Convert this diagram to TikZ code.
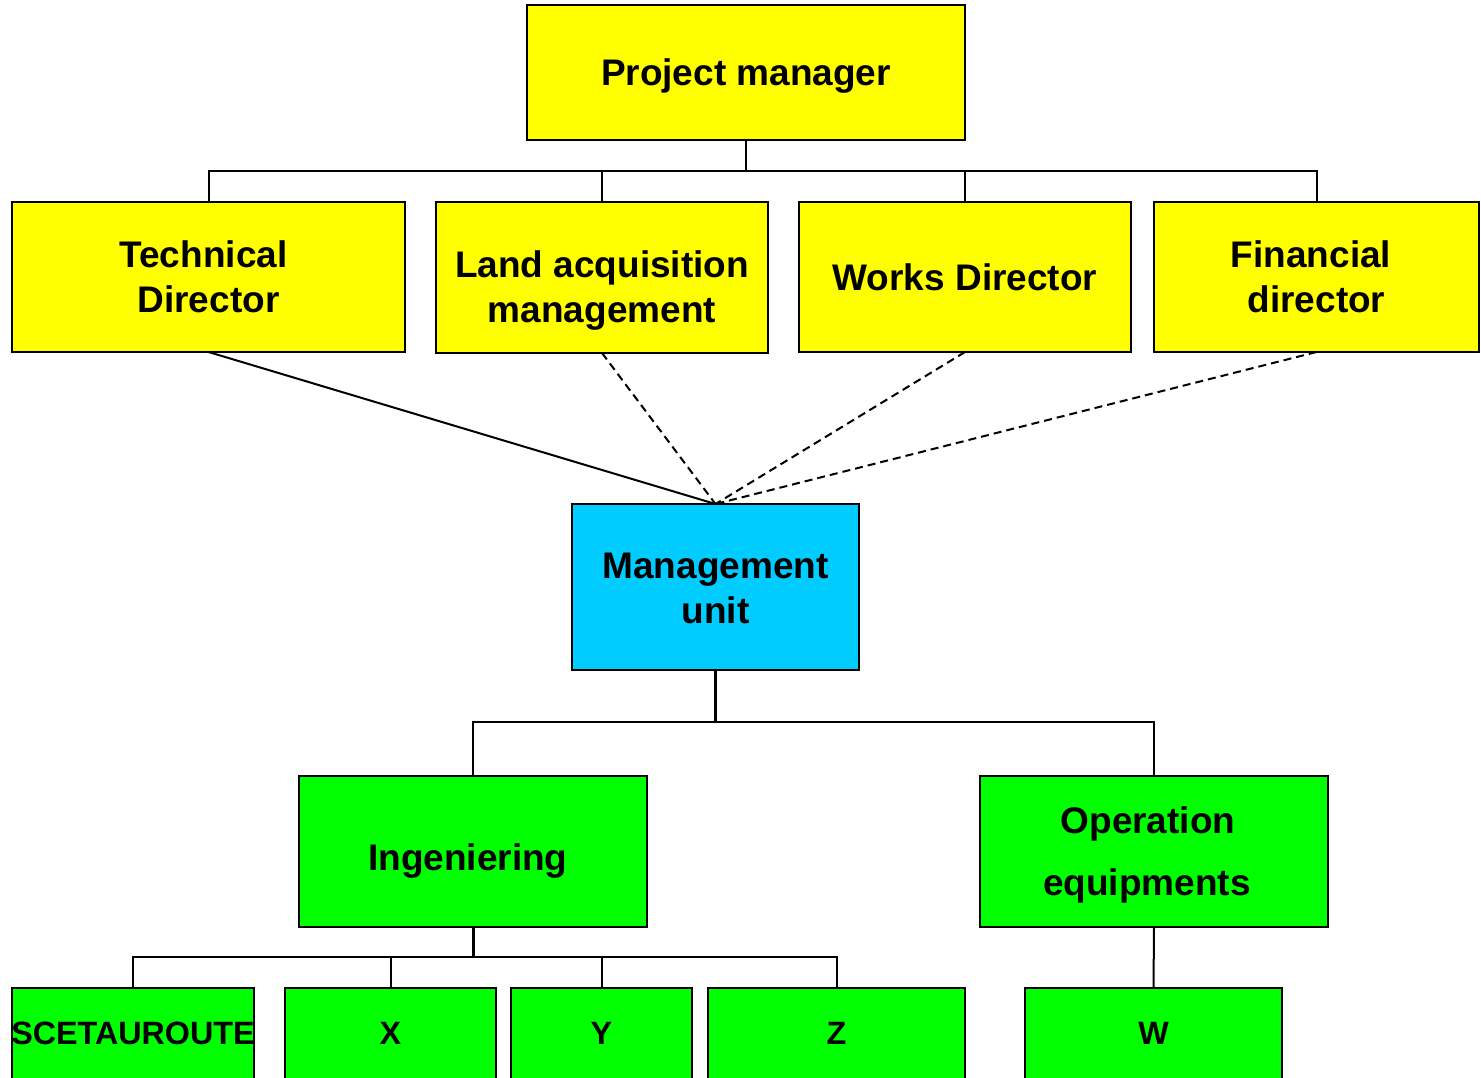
\documentclass[tikz,border=0pt]{standalone}
\usepackage{fontspec}
\setmainfont{Liberation Sans}
\definecolor{boxyellow}{HTML}{FFFF00}
\definecolor{boxcyan}{HTML}{00CCFF}
\definecolor{boxgreen}{HTML}{00FF00}
\tikzset{
  box/.style={draw=black, line width=2pt, inner sep=0pt, outer sep=0pt},
  ybox/.style={box, fill=boxyellow},
  cbox/.style={box, fill=boxcyan},
  gbox/.style={box, fill=boxgreen},
  lbl/.style={inner sep=0pt, align=center, font=\bfseries\fontsize{37}{45}\selectfont},
  slbl/.style={inner sep=0pt, align=center, font=\bfseries\fontsize{32.3}{38}\selectfont},
  conn/.style={line width=2pt},
  stem/.style={line width=3pt},
  dconn/.style={line width=2pt, dash pattern=on 8pt off 5pt},
}
\begin{document}
\begin{tikzpicture}[x=1pt,y=-1pt]
\clip (0,0) rectangle (1481,1077);
\fill[white] (0,0) rectangle (1481,1077);
% boxes
\node[ybox, minimum width=438pt, minimum height=135pt] (pm) at (746,72.5) {};
\node[ybox, minimum width=393pt, minimum height=150pt] (tech) at (208.5,277) {};
\node[ybox, minimum width=332pt, minimum height=151pt] (land) at (602,277.5) {};
\node[ybox, minimum width=332pt, minimum height=150pt] (works) at (965,277) {};
\node[ybox, minimum width=325pt, minimum height=150pt] (fin) at (1316.5,277) {};
\node[cbox, minimum width=287pt, minimum height=166pt] (mu) at (715.5,587) {};
\node[gbox, minimum width=348pt, minimum height=151pt] (ing) at (473,851.5) {};
\node[gbox, minimum width=348pt, minimum height=151pt] (op) at (1154,851.5) {};
\node[gbox, minimum width=242pt, minimum height=140pt] (sc) at (133,1058) {};
\node[gbox, minimum width=211pt, minimum height=140pt] (x) at (390.5,1058) {};
\node[gbox, minimum width=181pt, minimum height=140pt] (y) at (601.5,1058) {};
\node[gbox, minimum width=257pt, minimum height=140pt] (z) at (836.5,1058) {};
\node[gbox, minimum width=257pt, minimum height=140pt] (w) at (1153.5,1058) {};
% texts
\node[lbl] (pmt) at (746,76.5) {Project manager};
\node[lbl] (techt) at (208.5,277) {Technical\kern10pt\\Director};
\node[lbl] (landt) at (602,290.5) {Land acquisition\\management};
\node[lbl] (workst) at (965,277) {Works Director};
\node[lbl] (fint) at (1316.5,277) {Financial\kern11pt\\director};
\node[lbl] (mut) at (715.5,588) {Management\\unit};
\node[lbl] (ingt) at (473,861.5) {Ingeniering~};
\node[lbl] (opt) at (1154,854.5) {Operation\kern12pt\\[17pt]equipments\kern14pt};
\node[slbl] (sct) at (133,1033) {SCETAUROUTE};
\node[slbl] (xt) at (390.5,1033) {X};
\node[slbl] (yt) at (601.5,1033) {Y};
\node[slbl] (zt) at (836.5,1033) {Z};
\node[slbl] (wt) at (1153.5,1033) {W};
% connectors: top bus
\coordinate (bus1) at (746,171);
\draw[conn] (pm.south) -- (bus1);
\draw[conn] (tech.north) |- (bus1);
\draw[conn] (land.north) |- (bus1);
\draw[conn] (works.north) |- (bus1);
\draw[conn] (fin.north) |- (bus1);
% to management unit
\draw[conn] (tech.south) -- (mu.north);
\draw[dconn] (land.south) -- (mu.north);
\draw[dconn] (works.south) -- (mu.north);
\draw[dconn] (fin.south) -- (mu.north);
% management unit bus
\coordinate (bus2) at (715.5,722);
\draw[stem] (mu.south) -- (bus2);
\draw[conn] (ing.north) |- (bus2);
\draw[conn] (op.north) |- (bus2);
% ingeniering bus
\coordinate (bus3) at (473,957);
\draw[stem] (ing.south) -- (bus3);
\draw[conn] (sc.north) |- (bus3);
\draw[conn] (x.north) |- (bus3);
\draw[conn] (y.north) |- (bus3);
\draw[conn] (z.north) |- (bus3);
% operation to W
\draw[conn] (op.south) -- (w.north);
\end{tikzpicture}
\end{document}
